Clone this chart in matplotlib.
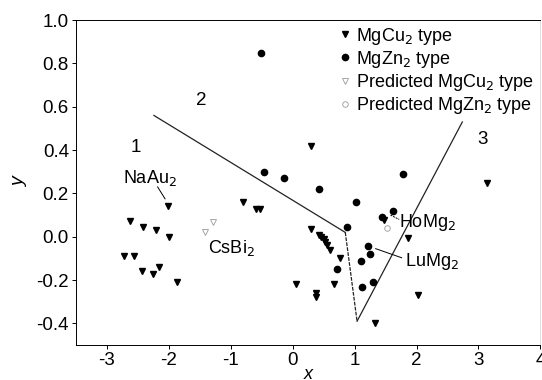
import numpy as np
import matplotlib
matplotlib.use("Agg")
import matplotlib.pyplot as plt

plt.rcParams["font.family"] = ["Liberation Sans", "DejaVu Sans"]

# MgCu2 type (filled down triangles)
cu_x = [-2.02, -2.62, -2.42, -2.21, -2.00, -2.72, -2.56, -2.43, -2.26, -2.16, -1.86,
        -0.80, -0.59, -0.52, 0.30, 3.14, 0.30, 0.42, 0.46, 0.50, 0.53, 0.56, 0.60,
        0.77, 0.06, 0.38, 0.38, 0.66, 1.33, 1.87, 2.03, 1.47]
cu_y = [0.14, 0.074, 0.046, 0.032, 0.00, -0.09, -0.09, -0.16, -0.17, -0.14, -0.21,
        0.16, 0.13, 0.13, 0.42, 0.25, 0.037, 0.01, 0.00, -0.01, -0.025, -0.04, -0.06,
        -0.10, -0.22, -0.26, -0.28, -0.22, -0.40, -0.005, -0.27, 0.075]

# MgZn2 type (filled circles)
zn_x = [-0.51, -0.46, -0.14, 0.42, 1.02, 1.78, 1.62, 0.88, 1.22, 1.25, 1.10, 0.72,
        1.30, 1.12, 1.44]
zn_y = [0.85, 0.30, 0.27, 0.22, 0.16, 0.29, 0.12, 0.046, -0.045, -0.08, -0.11, -0.15,
        -0.21, -0.23, 0.09]

# predicted compounds (open markers)
pcu_x = [-1.28, -1.42]
pcu_y = [0.07, 0.02]
pzn_x = [1.52]
pzn_y = [0.04]

# boundary lines
b_x = [-2.24, 0.85, 1.04, 2.74]
b_y = [0.56, 0.02, -0.39, 0.53]

fig = plt.figure(figsize=(5.42, 3.8), dpi=100)
ax = fig.add_axes([0.140, 0.092, 0.857, 0.855])

ax.plot(b_x[:2], b_y[:2], color="#222222", lw=0.9)
ax.plot(b_x[1:3], b_y[1:3], color="#222222", lw=0.9, ls=(0, (3, 1)))
ax.plot(b_x[2:], b_y[2:], color="#222222", lw=0.9)

ax.plot(cu_x, cu_y, "v", color="black", ms=5, ls="none", label="MgCu$_2$ type")
ax.plot(zn_x, zn_y, "o", color="black", ms=4.5, ls="none", label="MgZn$_2$ type")
ax.plot(pcu_x, pcu_y, "v", mfc="none", mec="#999999", mew=0.6, ms=5, ls="none",
        label="Predicted MgCu$_2$ type")
ax.plot(pzn_x, pzn_y, "o", mfc="none", mec="#999999", mew=0.6, ms=4, ls="none",
        label="Predicted MgZn$_2$ type")

# region numbers
ax.text(-2.54, 0.41, "1", fontsize=13.5, ha="center", va="center")
ax.text(-1.47, 0.63, "2", fontsize=13.5, ha="center", va="center")
ax.text(3.07, 0.45, "3", fontsize=13.5, ha="center", va="center")

# compound labels
ax.text(-2.30, 0.27, "NaAu$_2$", fontsize=13, ha="center", va="center")
ax.plot([-2.18, -2.06], [0.23, 0.175], color="black", lw=0.7)
ax.text(-1.36, -0.05, "CsBi$_2$", fontsize=13, ha="left", va="center")
ax.text(1.72, 0.065, "HoMg$_2$", fontsize=13, ha="left", va="center")
ax.plot([1.58, 1.72], [0.1, 0.08], color="black", lw=0.7, ls=(0, (2, 1)))
ax.text(1.82, -0.115, "LuMg$_2$", fontsize=13, ha="left", va="center")
ax.plot([1.34, 1.76], [-0.055, -0.097], color="black", lw=0.7)

ax.set_xlim(-3.5, 4.0)
ax.set_ylim(-0.5, 1.0)
ax.set_xticks([-3, -2, -1, 0, 1, 2, 3, 4])
ax.set_yticks([-0.4, -0.2, 0.0, 0.2, 0.4, 0.6, 0.8, 1.0])
ax.set_yticklabels(["-0.4", "-0.2", "0.0", "0.2", "0.4", "0.6", "0.8", "1.0"])
ax.set_xticklabels(["-3", "-2", "-1", "0", "1", "2", "3", "4"])
ax.tick_params(labelsize=13.5, length=3, width=0.7, pad=2)
ax.set_xlabel("x", fontsize=13, style="italic", labelpad=-2)
ax.set_ylabel("y", fontsize=14, style="italic", labelpad=6)
for s in ax.spines.values():
    s.set_linewidth(0.7)
ax.spines["right"].set_color("#dddddd")

ax.legend(loc="upper left", bbox_to_anchor=(0.555, 1.0), frameon=False, fontsize=13,
          handlelength=0.6, handletextpad=0.35, labelspacing=0.12, borderaxespad=0.1,
          borderpad=0.2)

fig.savefig("out.png", dpi=100)
